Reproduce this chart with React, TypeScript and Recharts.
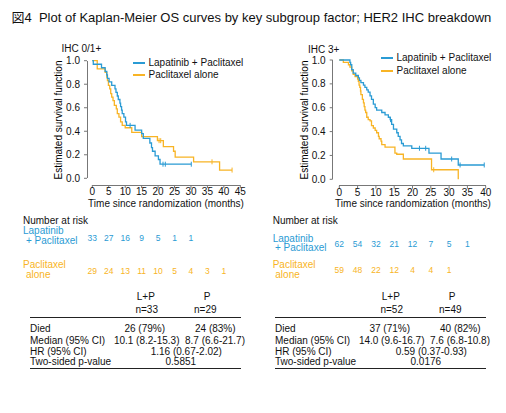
import React from 'react';
import { ComposedChart, Line, Scatter, XAxis, YAxis } from 'recharts';

const BLUE = '#2a9bd4';
const ORANGE = '#f8b425';
const AXIS = '#777';
const FONT = '"Liberation Sans", Arial, "Noto Sans CJK JP", sans-serif';

// KM steps [months, survival]
const lpIhc01 = [
  [0, 1], [0.3, 0.97], [2.8, 0.94], [3.9, 0.91], [4.4, 0.88], [4.6, 0.85], [5.1, 0.82], [5.9, 0.79],
  [6.9, 0.76], [7.2, 0.73], [7.6, 0.7], [7.9, 0.67], [8.4, 0.64], [8.6, 0.61], [8.9, 0.58], [9.1, 0.55],
  [9.6, 0.52], [10.1, 0.48], [10.4, 0.45], [13.0, 0.41], [15.0, 0.38], [15.5, 0.34], [17.5, 0.3],
  [18.0, 0.26], [18.3, 0.23], [19.1, 0.19], [20.1, 0.16], [20.6, 0.12], [30.1, 0.12],
];
const pIhc01 = [
  [0, 1], [1.5, 0.93], [3.9, 0.9], [4.4, 0.86], [4.6, 0.83], [4.9, 0.79], [5.3, 0.76], [5.6, 0.72],
  [5.9, 0.69], [6.3, 0.66], [6.7, 0.62], [7.3, 0.59], [7.6, 0.55], [8.1, 0.52], [8.6, 0.48], [9.1, 0.45],
  [10.0, 0.43], [12.0, 0.39], [15.0, 0.355], [19.8, 0.32], [21.6, 0.27], [24.7, 0.23], [25.2, 0.18],
  [30.8, 0.14], [38.7, 0.07], [42.5, 0.07],
];
const lpIhc01Cens = [[11.5, 0.45], [21.5, 0.12], [22.2, 0.12], [30.1, 0.12]];
const pIhc01Cens = [[20.3, 0.32], [20.8, 0.32], [36.4, 0.14], [42.5, 0.07]];

const lpIhc3 = [
  [0, 1], [2.9, 0.98], [3.1, 0.96], [3.4, 0.92], [3.8, 0.89], [4.5, 0.87], [5.2, 0.85], [5.5, 0.83],
  [5.9, 0.81], [6.6, 0.79], [7.0, 0.77], [7.5, 0.75], [7.9, 0.73], [8.4, 0.7], [8.8, 0.67], [9.3, 0.63],
  [9.8, 0.6], [10.2, 0.58], [11.6, 0.56], [12.5, 0.54], [13.4, 0.52], [13.9, 0.5], [14.3, 0.46],
  [14.8, 0.42], [15.7, 0.39], [16.1, 0.36], [16.6, 0.33], [17.0, 0.3], [17.5, 0.28], [19.8, 0.26],
  [24.5, 0.22], [27.8, 0.17], [32.5, 0.12], [39.6, 0.12],
];
const pIhc3 = [
  [0, 1], [1.1, 0.98], [2.5, 0.96], [2.9, 0.94], [3.4, 0.91], [3.8, 0.88], [4.3, 0.86], [5.0, 0.84],
  [5.2, 0.82], [5.4, 0.79], [5.6, 0.77], [5.8, 0.74], [5.9, 0.71], [6.3, 0.67], [6.6, 0.64], [6.8, 0.61],
  [7.0, 0.58], [7.2, 0.56], [7.5, 0.52], [7.9, 0.5], [8.4, 0.49], [8.8, 0.45], [9.3, 0.43], [9.8, 0.41],
  [10.2, 0.39], [10.7, 0.36], [10.9, 0.34], [11.4, 0.32], [11.6, 0.29], [12.5, 0.27], [15.2, 0.22],
  [15.7, 0.21], [17.5, 0.17], [25.2, 0.08], [32.5, 0.0],
];
const lpIhc3Cens = [[14.0, 0.5], [21.9, 0.26], [23.6, 0.26], [30.7, 0.17], [33.0, 0.12], [39.6, 0.12]];
const pIhc3Cens = [[25.8, 0.08]];

const riskLpIhc01 = [33, 27, 16, 9, 5, 1, 1];
const riskPIhc01 = [29, 24, 13, 11, 10, 5, 4, 3, 1];
const riskLpIhc3 = [62, 54, 32, 21, 12, 7, 5, 1];
const riskPIhc3 = [59, 48, 22, 12, 4, 4, 1];

const ticksIhc01 = [0, 5, 10, 15, 20, 25, 30, 35, 40, 45];
const ticksIhc3 = [0, 5, 10, 15, 20, 25, 30, 35, 40];
const yTicks = [0, 0.2, 0.4, 0.6, 0.8, 1.0];

const statRows = ['Died', 'Median (95% CI)', 'HR (95% CI)', 'Two-sided p-value'];
const statsIhc01 = { n: ['n=33', 'n=29'], died: ['26 (79%)', '24 (83%)'], median: ['10.1 (8.2-15.3)', '8.7 (6.6-21.7)'], hr: '1.16 (0.67-2.02)', p: '0.5851' };
const statsIhc3 = { n: ['n=52', 'n=49'], died: ['37 (71%)', '40 (82%)'], median: ['14.0 (9.6-16.7)', '7.6 (6.8-10.8)'], hr: '0.59 (0.37-0.93)', p: '0.0176' };

const toPts = (a: number[][]) => a.map(([t, s]) => ({ t, s }));

const Cens = (color: string) => (props: any) => {
  const { cx, cy } = props;
  if (cx == null || cy == null) return <g />;
  return <line x1={cx} x2={cx} y1={cy - 2.5} y2={cy + 2.5} stroke={color} strokeWidth={1} />;
};

const Txt = ({ x, y, children, color = '#111', size = 10, anchor = 'start' }: any) => (
  <div
    style={{
      position: 'absolute', left: x, top: y, fontSize: size, lineHeight: 1, color, whiteSpace: 'nowrap',
      transform: anchor === 'middle' ? 'translate(-50%,-50%)' : 'translate(0,-50%)',
    }}
  >
    {children}
  </div>
);

// R-style axes: lines only span first to last tick
const AxisLines = ({ yAxX, y0, y1, xAxY, x0, x1 }: any) => (
  <>
    <div style={{ position: 'absolute', left: yAxX - 0.5, top: y0, width: 1, height: y1 - y0, background: AXIS }} />
    <div style={{ position: 'absolute', left: x0, top: xAxY - 0.5, width: x1 - x0, height: 1, background: AXIS }} />
  </>
);

const KM = ({ left, width, margin, padX, padY, xMax, ticks, lp, p, lpC, pC }: any) => (
  <div style={{ position: 'absolute', left, top: 0 }}>
    <ComposedChart width={width} height={215} margin={margin}>
      <XAxis
        type="number" dataKey="t" domain={[0, xMax]} ticks={ticks} padding={{ left: padX, right: 0 }}
        height={20} tickSize={3} tickMargin={0} stroke={AXIS} axisLine={false}
        tick={{ fill: '#111', fontSize: 10, fontFamily: FONT }} allowDuplicatedCategory={false}
      />
      <YAxis
        type="number" dataKey="s" domain={[0, 1]} ticks={yTicks} padding={{ top: 0, bottom: padY }}
        width={30} tickSize={3} tickMargin={4} stroke={AXIS} axisLine={false} tickFormatter={(v: number) => v.toFixed(1)}
        tick={{ fill: '#111', fontSize: 10, fontFamily: FONT }}
      />
      <Line data={toPts(p)} dataKey="s" type="stepAfter" stroke={ORANGE} strokeWidth={1.3} dot={false} isAnimationActive={false} />
      <Line data={toPts(lp)} dataKey="s" type="stepAfter" stroke={BLUE} strokeWidth={1.3} dot={false} isAnimationActive={false} />
      <Scatter data={toPts(pC)} dataKey="s" shape={Cens(ORANGE)} isAnimationActive={false} />
      <Scatter data={toPts(lpC)} dataKey="s" shape={Cens(BLUE)} isAnimationActive={false} />
    </ComposedChart>
  </div>
);

const Legend = ({ x, y }: any) => (
  <>
    <div style={{ position: 'absolute', left: x, top: y - 0.5, width: 12, height: 2, background: BLUE }} />
    <Txt x={x + 15.5} y={y + 0.5}>Lapatinib + Paclitaxel</Txt>
    <div style={{ position: 'absolute', left: x, top: y + 12, width: 12, height: 2, background: ORANGE }} />
    <Txt x={x + 15.5} y={y + 13}>Paclitaxel alone</Txt>
  </>
);

const Risk = ({ x0, step, lp, p, yLp, yP }: any) => (
  <>
    {lp.map((v: number, i: number) => (
      <Txt key={'a' + i} x={x0 + i * step} y={yLp} color={BLUE} size={8.5} anchor="middle">{v}</Txt>
    ))}
    {p.map((v: number, i: number) => (
      <Txt key={'b' + i} x={x0 + i * step} y={yP} color={ORANGE} size={8.5} anchor="middle">{v}</Txt>
    ))}
  </>
);

// table block, dx = horizontal offset of the block
const Stats = ({ dx, s }: any) => {
  const rowY = [328.7, 340.7, 351.5, 362.2];
  return (
    <>
      <Txt x={dx + 145.8} y={296.5} anchor="middle">L+P</Txt>
      <Txt x={dx + 207.2} y={296.5} anchor="middle">P</Txt>
      <Txt x={dx + 146.7} y={309.8} anchor="middle">{s.n[0]}</Txt>
      <Txt x={dx + 205.3} y={309.8} anchor="middle">{s.n[1]}</Txt>
      <div style={{ position: 'absolute', left: dx + 30, top: 317, width: 211, height: 1, background: '#222' }} />
      {statRows.map((r, i) => (
        <Txt key={r} x={dx + 30} y={rowY[i]}>{r}</Txt>
      ))}
      <Txt x={dx + 144.7} y={rowY[0]} anchor="middle">{s.died[0]}</Txt>
      <Txt x={dx + 215.3} y={rowY[0]} anchor="middle">{s.died[1]}</Txt>
      <Txt x={dx + 146.7} y={rowY[1]} anchor="middle">{s.median[0]}</Txt>
      <Txt x={dx + 215} y={rowY[1]} anchor="middle">{s.median[1]}</Txt>
      <Txt x={dx + 186.3} y={rowY[2]} anchor="middle">{s.hr}</Txt>
      <Txt x={dx + 180.8} y={rowY[3]} anchor="middle">{s.p}</Txt>
      <div style={{ position: 'absolute', left: dx + 30, top: 368, width: 211, height: 1, background: '#222' }} />
    </>
  );
};

export default function App() {
  return (
    <div style={{ position: 'absolute', left: 0, top: 0, width: 506, height: 413, background: '#fff', fontFamily: FONT, overflow: 'hidden' }}>
      <Txt x={11.5} y={17} size={13}>図4&nbsp; Plot of Kaplan-Meier OS curves by key subgroup factor; HER2 IHC breakdown</Txt>

      <KM left={0} width={260} margin={{ top: 60.7, right: 19.7, left: 57, bottom: 10 }} padX={5.3} padY={6.7}
        xMax={45} ticks={ticksIhc01} lp={lpIhc01} p={pIhc01} lpC={lpIhc01Cens} pC={pIhc01Cens} />
      <KM left={250} width={256} margin={{ top: 60, right: 20.3, left: 52.7, bottom: 9.3 }} padX={6.6} padY={6.4}
        xMax={40} ticks={ticksIhc3} lp={lpIhc3} p={pIhc3} lpC={lpIhc3Cens} pC={pIhc3Cens} />
      <AxisLines yAxX={87} y0={60.7} y1={178.3} xAxY={185} x0={92.3} x1={240.3} />
      <AxisLines yAxX={332.7} y0={60} y1={179.3} xAxY={185.7} x0={339.3} x1={485.7} />

      <Txt x={61.5} y={48.5}>IHC 0/1+</Txt>
      <Txt x={308} y={50}>IHC 3+</Txt>
      <Legend x={133} y={62} />
      <Legend x={381} y={57.5} />

      {[58, 304].map((x) => (
        <div key={x} style={{ position: 'absolute', left: x, top: 120, fontSize: 10, whiteSpace: 'nowrap', transform: 'translate(-50%,-50%) rotate(-90deg)' }}>
          Estimated survival function
        </div>
      ))}
      <Txt x={166} y={204} anchor="middle">Time since randomization (months)</Txt>
      <Txt x={413} y={204} anchor="middle">Time since randomization (months)</Txt>

      <Txt x={23} y={221}>Number at risk</Txt>
      <Txt x={23} y={231} color={BLUE}>Lapatinib</Txt>
      <Txt x={26} y={241} color={BLUE}>+ Paclitaxel</Txt>
      <Txt x={23} y={265.3} color={ORANGE}>Paclitaxel</Txt>
      <Txt x={26} y={275} color={ORANGE}>alone</Txt>
      <Risk x0={92.3} step={148 / 9} lp={riskLpIhc01} p={riskPIhc01} yLp={237.5} yP={270.7} />

      <Txt x={272.7} y={221}>Number at risk</Txt>
      <Txt x={272.7} y={238.7} color={BLUE}>Lapatinib</Txt>
      <Txt x={275} y={248.3} color={BLUE}>+ Paclitaxel</Txt>
      <Txt x={272.7} y={265.3} color={ORANGE}>Paclitaxel</Txt>
      <Txt x={275.3} y={275} color={ORANGE}>alone</Txt>
      <Risk x0={339.3} step={146.4 / 8} lp={riskLpIhc3} p={riskPIhc3} yLp={244.3} yP={270} />

      <Stats dx={0} s={statsIhc01} />
      <Stats dx={245} s={statsIhc3} />
    </div>
  );
}
